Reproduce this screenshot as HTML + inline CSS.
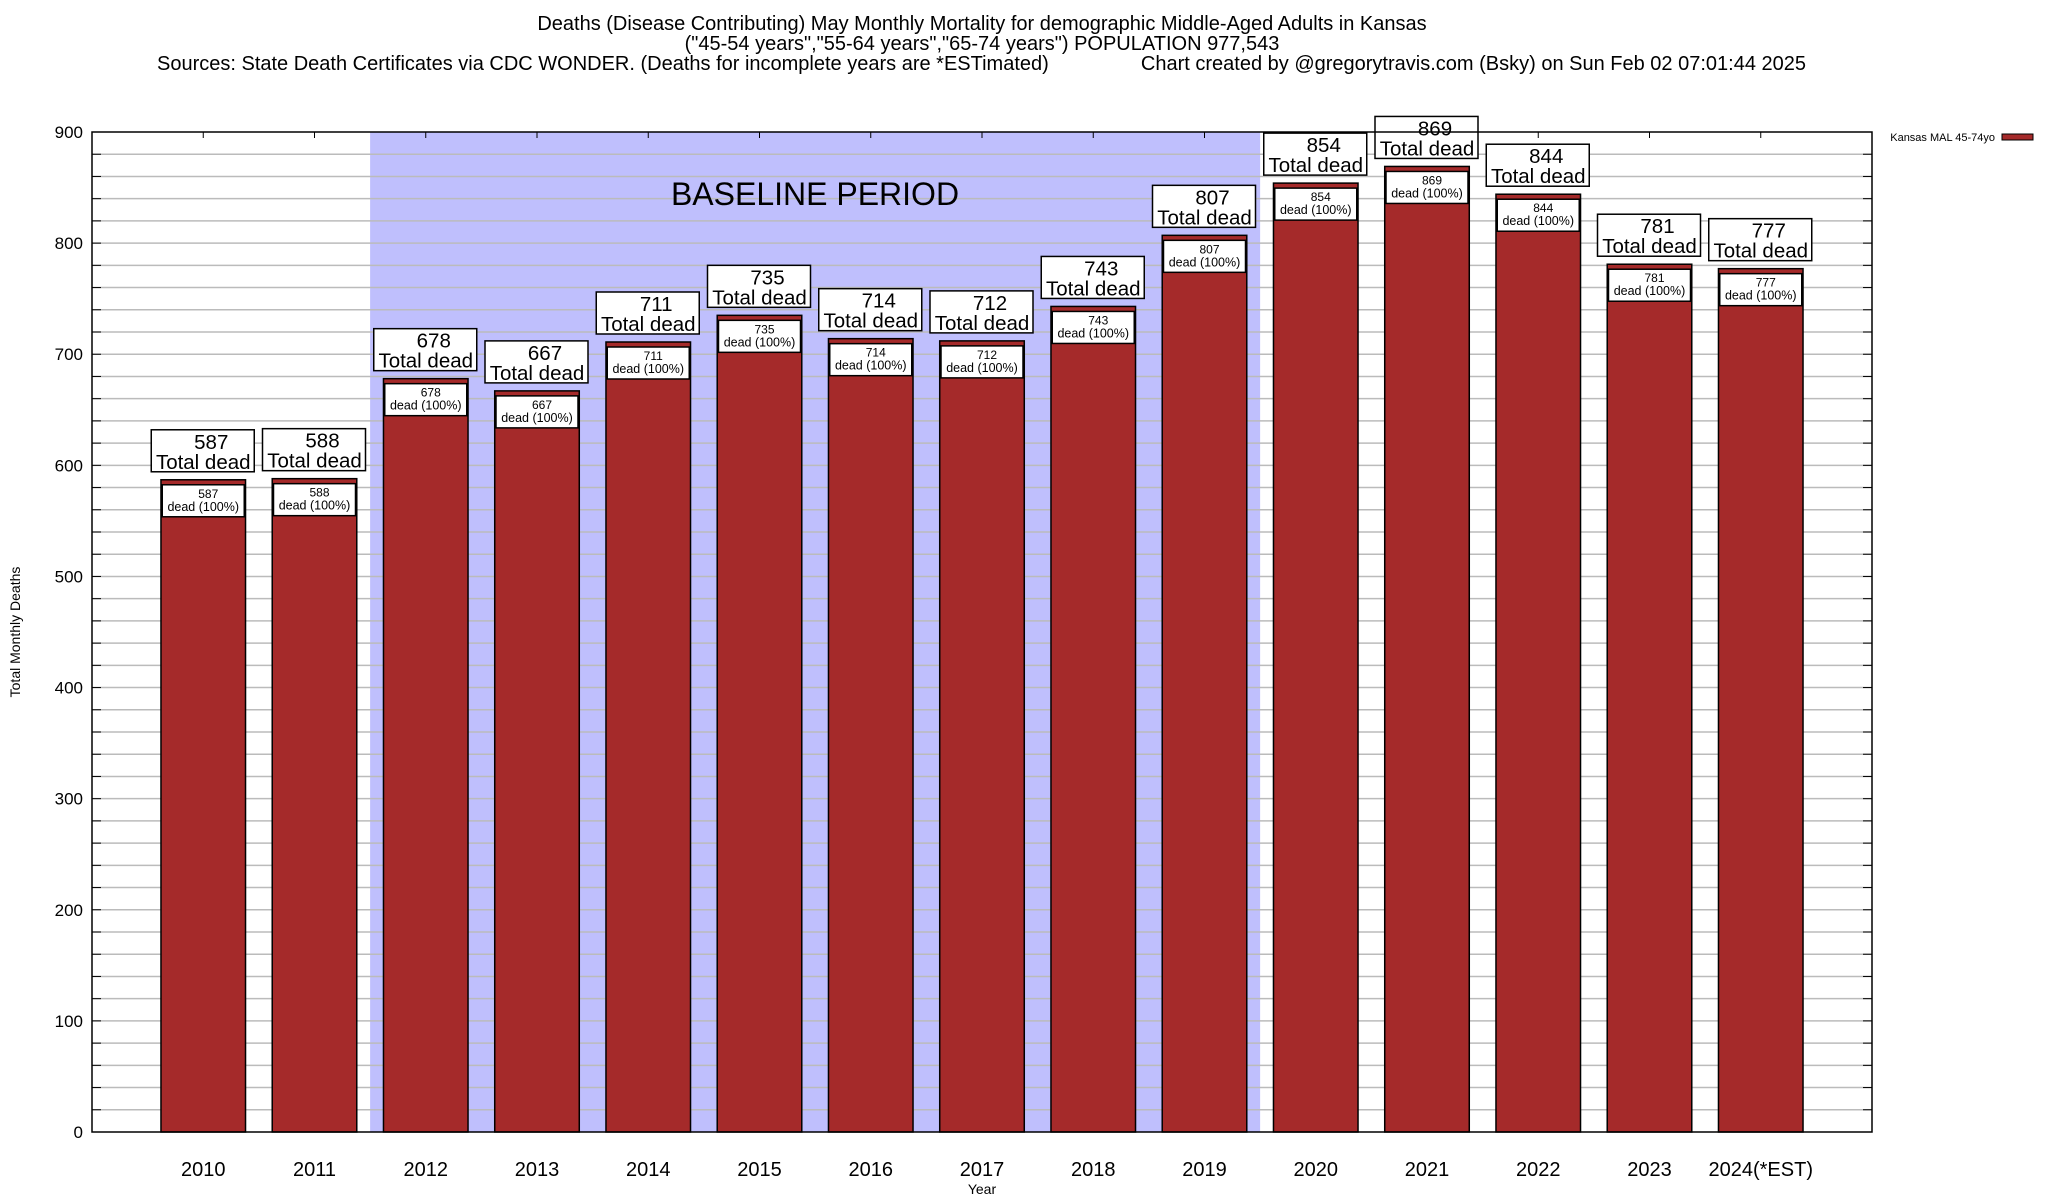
<!DOCTYPE html>
<html><head><meta charset="utf-8"><style>
html,body{margin:0;padding:0;background:#fff;}
svg{display:block;font-family:"Liberation Sans",sans-serif;}
</style></head><body>
<svg id="chart" width="2048" height="1200" viewBox="0 0 2048 1200" xmlns="http://www.w3.org/2000/svg">
<text x="982" y="30" font-size="20" text-anchor="middle">Deaths (Disease Contributing) May Monthly Mortality for demographic Middle-Aged Adults in Kansas</text>
<text x="982" y="50" font-size="20" text-anchor="middle">("45-54 years","55-64 years","65-74 years") POPULATION 977,543</text>
<text x="157" y="70" font-size="20">Sources: State Death Certificates via CDC WONDER. (Deaths for incomplete years are *ESTimated)</text>
<text x="1806" y="70" font-size="20" text-anchor="end">Chart created by @gregorytravis.com (Bsky) on Sun Feb 02 07:01:44 2025</text>
<g id="plot"></g>
<text x="20" y="632" font-size="14" text-anchor="middle" transform="rotate(-90 20 632)">Total Monthly Deaths</text>
<text x="982" y="1194" font-size="14" text-anchor="middle">Year</text>
<g>
<text x="1995" y="141" font-size="11" text-anchor="end">Kansas MAL 45-74yo</text>
<rect x="2002" y="134" width="31" height="6" fill="#a52a2a" stroke="#000" stroke-width="1"/>
</g>
</svg>
<script>
const categories = ["2010","2011","2012","2013","2014","2015","2016","2017","2018","2019","2020","2021","2022","2023","2024(*EST)"];
const deaths = [587,588,678,667,711,735,714,712,743,807,854,869,844,781,777];
const yTicks = [0,100,200,300,400,500,600,700,800,900];
const baselineRange = [2012, 2019];

const NS = "http://www.w3.org/2000/svg";
const L = 92, R = 1872, T = 132, B = 1132, YMAX = 900;
const slot = (R - L) / (categories.length + 1);
const xPos = i => L + slot * (i + 1);
const yPos = v => B - (v / YMAX) * (B - T);
const g = document.getElementById("plot");
function mk(tag, attrs, parent) {
  const e = document.createElementNS(NS, tag);
  for (const k in attrs) e.setAttribute(k, attrs[k]);
  (parent || g).appendChild(e);
  return e;
}
const bi0 = categories.indexOf(String(baselineRange[0])), bi1 = categories.indexOf(String(baselineRange[1]));
const shade = mk("rect", {x: xPos(bi0) - slot/2, y: T, width: slot*(bi1-bi0+1), height: B - T, fill: "#bfbffd"});


for (let v = 20; v < YMAX; v += 20) {
  const ln = mk("line", {x1: L, x2: R, y1: yPos(v), y2: yPos(v), stroke: "#bbb", "stroke-width": 1.5});
  
  
  mk("line", {x1: L, x2: L + 9, y1: yPos(v), y2: yPos(v), stroke: "#000", "stroke-width": 1});
  mk("line", {x1: R - 9, x2: R, y1: yPos(v), y2: yPos(v), stroke: "#000", "stroke-width": 1});
}
const bl = mk("text", {x: 815, y: 205, "font-size": 32, "text-anchor": "middle"});
bl.textContent = "BASELINE PERIOD";


yTicks.forEach(v => {
  const t = mk("text", {x: 83, y: yPos(v) + 6, "font-size": 17, "text-anchor": "end"});
  t.textContent = v;
  
  
});
const bw = slot * 0.76;
categories.forEach((c, i) => {
  const cx = xPos(i), top = yPos(deaths[i]);
  mk("line", {x1: cx, x2: cx, y1: T, y2: T + 6, stroke: "#000", "stroke-width": 1});
  const bar = mk("rect", {x: cx - bw/2, y: top, width: bw, height: B - top, fill: "#a52a2a", stroke: "#000", "stroke-width": 1.5});
  
  
  const ib = mk("rect", {x: cx - 41, y: top + 5, width: 82, height: 32, fill: "#fff", stroke: "#000", "stroke-width": 1.5});
  
  
  const t1 = mk("text", {x: cx + 5, y: top + 18, "font-size": 12, "text-anchor": "middle"});
  t1.textContent = deaths[i];
  
  
  const t2 = mk("text", {x: cx, y: top + 31, "font-size": 12.5, "text-anchor": "middle"});
  t2.textContent = "dead (100%)";
  
  
  const ob = mk("rect", {x: cx - 52, y: top - 50, width: 103, height: 42, fill: "#fff", stroke: "#000", "stroke-width": 1.5});
  
  
  const t3 = mk("text", {x: cx + 8, y: top - 31, "font-size": 20.5, "text-anchor": "middle"});
  t3.textContent = deaths[i];
  
  
  const t4 = mk("text", {x: cx, y: top - 11, "font-size": 20.5, "text-anchor": "middle"});
  t4.textContent = "Total dead";
  
  
  const xl = mk("text", {x: cx, y: 1176, "font-size": 20, "text-anchor": "middle"});
  xl.textContent = c;
  
  
});
const frame = mk("rect", {x: L, y: T, width: R - L, height: B - T, fill: "none", stroke: "#000", "stroke-width": 1.5});


</script>
</body></html>
